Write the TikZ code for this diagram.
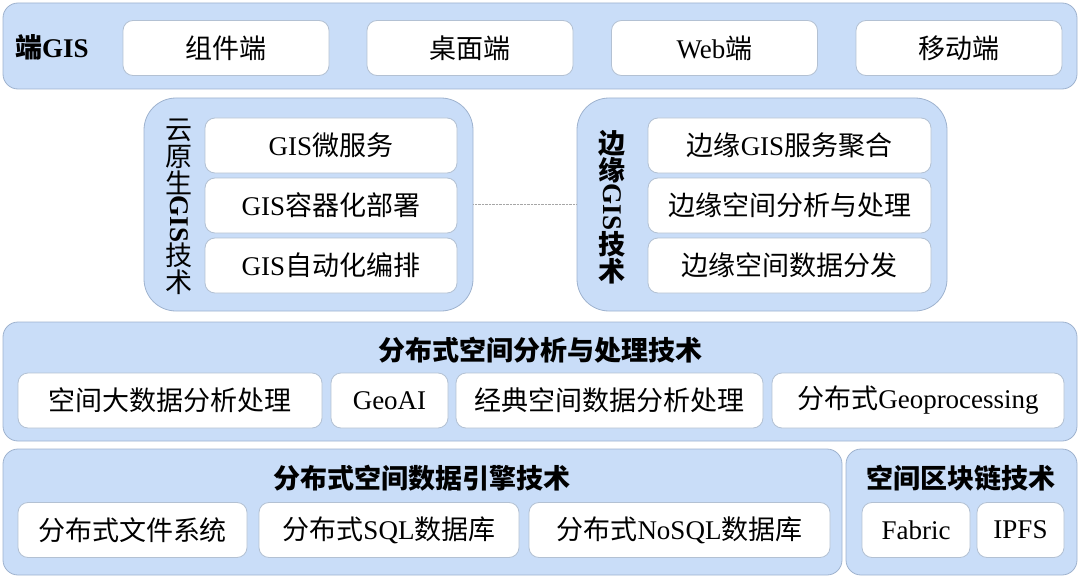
\documentclass[tikz,border=0pt]{standalone}
\usepackage{fontspec}
\setmainfont{Liberation Serif}
\newfontfamily\cjk{Noto Sans CJK SC}
\newcommand{\zh}[1]{{\cjk #1}}
\usetikzlibrary{fit, positioning}
\definecolor{fondo}{HTML}{C9DDF8}
\definecolor{bordo}{HTML}{9EB2CE}
\definecolor{bordobox}{HTML}{B3C1D3}
\tikzset{
  banda/.style={draw=bordo, fill=fondo, rounded corners=15pt, inner sep=0pt, line width=0.8pt},
  pannello/.style={banda, rounded corners=32pt},
  voce/.style={draw=bordobox, fill=white, rounded corners=10pt, inner sep=0pt, line width=0.8pt, minimum height=55pt},
  titolo/.style={font=\fontsize{27}{27}\selectfont\bfseries}
}

\begin{document}
\begin{tikzpicture}[x=1pt, y=-1pt, font=\fontsize{27}{27}\selectfont]
        \useasboundingbox (0,0) rectangle (1080,578);
        %banda terminali
        \node[banda, fit={(3,3) (1077,89)}] (terminali) {};
        \node[titolo] (tit-terminali) at (52,47) {\zh{端}GIS};
        \node[voce, minimum width=206pt] (componenti) at (226,48) {\zh{组件端}};
        \node[voce, minimum width=206pt] (desktop) at (470,48) {\zh{桌面端}};
        \node[voce, minimum width=206pt] (web) at (714.5,48) {Web\zh{端}};
        \node[voce, minimum width=206pt] (mobile) at (959,48) {\zh{移动端}};
        %pannello cloud native
        \node[pannello, fit={(144,98) (473,311)}] (cloud) {};
        \node[align=center] (tit-cloud) at (179,207) {\zh{云}\\\zh{原}\\\zh{生}\\\rotatebox[origin=c]{-90}{\bfseries GIS}\\\zh{技}\\\zh{术}};
        \node[voce, minimum width=252pt] (micro) at (331,145.5) {GIS\zh{微服务}};
        \node[voce, minimum width=252pt] (container) at (331,205.5) {GIS\zh{容器化部署}};
        \node[voce, minimum width=252pt] (orchestra) at (331,265.5) {GIS\zh{自动化编排}};
        %pannello edge
        \node[pannello, fit={(577,98) (947,311)}] (edge) {};
        \node[titolo, align=center] (tit-edge) at (612,207) {\zh{边}\\\zh{缘}\\\rotatebox[origin=c]{-90}{\bfseries GIS}\\\zh{技}\\\zh{术}};
        \node[voce, minimum width=283pt] (aggregazione) at (789.5,145.5) {\zh{边缘}GIS\zh{服务聚合}};
        \node[voce, minimum width=283pt] (analisi-edge) at (789.5,205.5) {\zh{边缘空间分析与处理}};
        \node[voce, minimum width=283pt] (distribuzione) at (789.5,265.5) {\zh{边缘空间数据分发}};
        %collegamento
        \draw[densely dotted, gray!70] (cloud.east) -- (edge.west);
        %banda analisi
        \node[banda, fit={(3,322) (1077,441)}] (analisi) {};
        \node[titolo] (tit-analisi) at (540,350) {\zh{分布式空间分析与处理技术}};
        \node[voce, minimum width=304pt] (bigdata) at (170,400.5) {\zh{空间大数据分析处理}};
        \node[voce, minimum width=117pt] (geoai) at (389.5,400.5) {GeoAI};
        \node[voce, minimum width=307pt] (classica) at (609.5,400.5) {\zh{经典空间数据分析处理}};
        \node[voce, minimum width=292pt] (geoproc) at (918,400.5) {\zh{分布式}Geoprocessing};
        %banda motore dati
        \node[banda, fit={(3,449) (842,575)}] (motore) {};
        \node[titolo] (tit-motore) at (422,478) {\zh{分布式空间数据引擎技术}};
        \node[voce, minimum width=229pt] (filesystem) at (132.5,530) {\zh{分布式文件系统}};
        \node[voce, minimum width=260pt] (sql) at (389,530) {\zh{分布式}SQL\zh{数据库}};
        \node[voce, minimum width=301pt] (nosql) at (679.5,530) {\zh{分布式}NoSQL\zh{数据库}};
        %banda blockchain
        \node[banda, fit={(846,449) (1077,575)}] (blockchain) {};
        \node[titolo] (tit-blockchain) at (961,478) {\zh{空间区块链技术}};
        \node[voce, minimum width=108pt] (fabric) at (916,530) {Fabric};
        \node[voce, minimum width=87pt] (ipfs) at (1020.5,530) {IPFS};
    \end{tikzpicture}
\end{document}
